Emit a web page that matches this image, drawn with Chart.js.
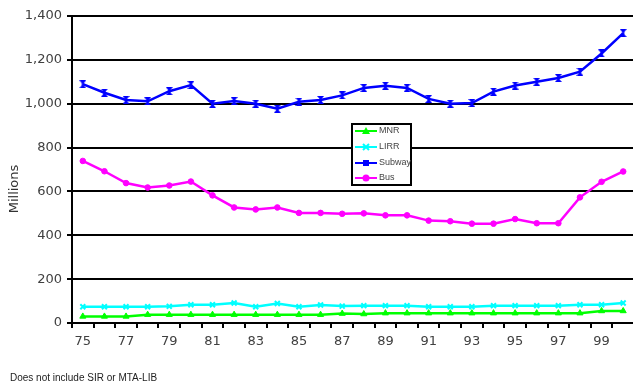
<!DOCTYPE html>
<html>
<head>
<meta charset="utf-8">
<script src="https://cdn.jsdelivr.net/npm/chart.js@4/dist/chart.umd.min.js"></script>
<style>
  html, body { margin: 0; padding: 0; overflow: hidden; background: #ffffff; }
  #wrap { width: 640px; height: 383px; position: relative; }
</style>
</head>
<body>
<div id="wrap"><canvas id="c" width="640" height="383"></canvas></div>
<script>
// Annual ridership, millions of passengers, 1975-2000
const years = ['75','76','77','78','79','80','81','82','83','84','85','86','87',
               '88','89','90','91','92','93','94','95','96','97','98','99','00'];
const mnr    = [30, 30, 30, 38, 38, 38, 38, 38, 38, 38, 38, 38, 43,
                41, 45, 45, 45, 45, 45, 45, 45, 45, 45, 45, 55, 55];
const lirr   = [74, 74, 74, 74, 76, 83, 83, 91, 74, 89, 74, 82, 77,
                79, 79, 79, 74, 74, 74, 79, 79, 79, 79, 83, 83, 91];
const subway = [1089, 1050, 1017, 1011, 1057, 1085, 1000, 1012, 1000, 977, 1009, 1017, 1038,
                1072, 1082, 1072, 1022, 1000, 1003, 1055, 1083, 1100, 1117, 1146, 1229, 1322];
const bus    = [739, 692, 638, 618, 627, 645, 582, 527, 518, 527, 502, 502, 498,
                500, 491, 491, 467, 464, 453, 453, 474, 455, 455, 573, 644, 691];
const yTicks = [0, 200, 400, 600, 800, 1000, 1200, 1400];

// hourglass marker for the subway series
function hourglass(color) {
  const cv = document.createElement('canvas');
  cv.width = 7; cv.height = 8;
  const g = cv.getContext('2d');
  g.fillStyle = color;
  g.beginPath();
  g.moveTo(0, 0); g.lineTo(7, 0); g.lineTo(3.5, 4); g.closePath();
  g.moveTo(0, 8); g.lineTo(7, 8); g.lineTo(3.5, 4); g.closePath();
  g.fill();
  g.fillRect(2.5, 1.5, 2, 5);
  return cv;
}

const GREEN = '#00ff00', CYAN = '#00ffff', BLUE = '#0000ff', MAGENTA = '#ff00ff';

const legendItems = [
  { label: 'MNR', color: GREEN, style: 'triangle' },
  { label: 'LIRR', color: CYAN, style: 'cross' },
  { label: 'Subway', color: BLUE, style: 'square' },
  { label: 'Bus', color: MAGENTA, style: 'circle' }
];

const decorations = {
  id: 'decorations',
  afterDraw(chart) {
    const ctx = chart.ctx;
    ctx.save();
    // axis title
    ctx.fillStyle = '#333333';
    ctx.font = '13px "DejaVu Sans"';
    ctx.textAlign = 'center';
    ctx.textBaseline = 'middle';
    ctx.translate(15, 189);
    ctx.rotate(-Math.PI / 2);
    ctx.fillText('Millions', 0, 0);
    ctx.restore();

    // footnote
    ctx.save();
    ctx.fillStyle = '#222222';
    ctx.font = '10px "Liberation Sans"';
    ctx.textAlign = 'left';
    ctx.textBaseline = 'middle';
    ctx.fillText('Does not include SIR or MTA-LIB', 10, 378);
    ctx.restore();

    // legend box
    ctx.save();
    ctx.fillStyle = '#ffffff';
    ctx.fillRect(352, 124, 59, 61);
    ctx.strokeStyle = '#000000';
    ctx.lineWidth = 2;
    ctx.strokeRect(352, 124, 59, 61);
    const rows = [131, 147, 163, 178];
    legendItems.forEach((it, i) => {
      const y = rows[i];
      ctx.strokeStyle = it.color;
      ctx.fillStyle = it.color;
      ctx.lineWidth = 2;
      ctx.beginPath();
      ctx.moveTo(355, y); ctx.lineTo(377, y);
      ctx.stroke();
      const cx = 366;
      ctx.beginPath();
      if (it.style === 'triangle') {
        ctx.moveTo(cx, y - 4); ctx.lineTo(cx + 4, y + 3); ctx.lineTo(cx - 4, y + 3); ctx.closePath(); ctx.fill();
      } else if (it.style === 'cross') {
        ctx.moveTo(cx - 3, y - 3); ctx.lineTo(cx + 3, y + 3);
        ctx.moveTo(cx + 3, y - 3); ctx.lineTo(cx - 3, y + 3); ctx.stroke();
      } else if (it.style === 'square') {
        ctx.fillRect(cx - 3, y - 3, 6, 6);
      } else {
        ctx.arc(cx, y, 3.5, 0, Math.PI * 2); ctx.fill();
      }
      ctx.fillStyle = '#444444';
      ctx.font = '9px "Liberation Sans Narrow", "Liberation Sans"';
      ctx.textAlign = 'left';
      ctx.textBaseline = 'middle';
      ctx.fillText(it.label, 379, y);
    });
    ctx.restore();
  }
};

const ds = (label, data, color, pointStyle, radius, pbw) => ({
  label, data,
  borderColor: color, backgroundColor: color,
  pointBackgroundColor: color, pointBorderColor: color,
  borderWidth: 2.5, pointStyle, pointRadius: radius, pointBorderWidth: pbw,
  tension: 0, clip: false
});

new Chart(document.getElementById('c'), {
  type: 'line',
  data: {
    labels: years,
    datasets: [
      ds('MNR', mnr, GREEN, 'triangle', 3.5, 1),
      ds('LIRR', lirr, CYAN, 'crossRot', 3.5, 2),
      ds('Subway', subway, BLUE, hourglass(BLUE), 4, 1),
      ds('Bus', bus, MAGENTA, 'circle', 2.8, 1)
    ]
  },
  options: {
    responsive: false,
    devicePixelRatio: 1,
    animation: false,
    layout: { padding: { left: 0, top: 16, right: 3, bottom: 0 } },
    plugins: { legend: { display: false }, tooltip: { enabled: false } },
    scales: {
      x: {
        type: 'category',
        offset: true,
        grid: { offset: true, drawOnChartArea: false, drawTicks: true, tickLength: 5, color: '#000000', lineWidth: 2 },
        border: { color: '#000000', width: 2 },
        ticks: {
          autoSkip: false, maxRotation: 0, padding: 6,
          color: '#404040', font: { family: 'DejaVu Sans', size: 13 },
          callback: (v, i) => (i % 2 === 0 ? years[i] : '')
        },
        afterFit: s => { s.height = 60; }
      },
      y: {
        min: 0, max: 1400,
        afterBuildTicks: s => { s.ticks = yTicks.map(v => ({ value: v })); },
        grid: { color: '#000000', lineWidth: 2, tickLength: 5 },
        border: { color: '#000000', width: 2 },
        ticks: {
          padding: 5, color: '#404040', font: { family: 'DejaVu Sans', size: 13 },
          callback: v => v.toLocaleString('en-US')
        },
        afterFit: s => { s.width = 72; }
      }
    }
  },
  plugins: [decorations]
});
</script>
</body>
</html>
